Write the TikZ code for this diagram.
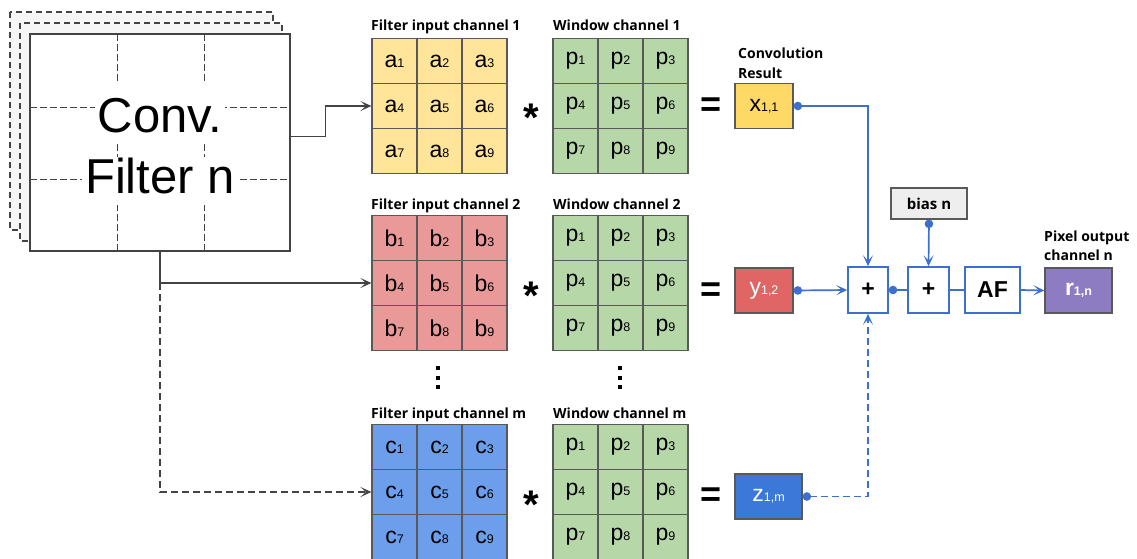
\documentclass[tikz,border=0pt]{standalone}
\usepackage{fontspec}
\setmainfont{Liberation Sans}
\newfontfamily\lblfont{Open Sans}
\usetikzlibrary{arrows.meta}
\definecolor{bord}{HTML}{595959}
\definecolor{gline}{HTML}{434343}
\definecolor{ylw}{HTML}{FFE599}
\definecolor{redl}{HTML}{EA9999}
\definecolor{grn}{HTML}{B6D7A8}
\definecolor{blul}{HTML}{6D9EEB}
\definecolor{ylwd}{HTML}{FFD966}
\definecolor{redd}{HTML}{E06666}
\definecolor{blud}{HTML}{3C78D8}
\definecolor{purp}{HTML}{8E7CC3}
\definecolor{conn}{HTML}{3D6FCF}
\definecolor{biasg}{HTML}{EEEEEE}
\newcommand\subsz[1]{{\fontsize{12.5}{12.5}\selectfont #1}}
\tikzset{
  cell/.style={draw=bord, line width=1.2pt, minimum size=45pt, inner sep=0pt, font=\fontsize{23}{23}\selectfont},
  lbl/.style={font=\lblfont\bfseries\fontsize{14}{16}\selectfont, anchor=base west, inner sep=0pt},
  res/.style={draw=bord, line width=1.2pt, minimum width=58pt, minimum height=45pt, inner sep=0pt, font=\fontsize{23}{23}\selectfont},
  opbox/.style={draw=conn, line width=1.5pt, fill=white, minimum height=46pt, inner sep=0pt, font=\bfseries\fontsize{23}{23}\selectfont},
  tip/.style={-{Stealth[length=11pt,width=10pt,inset=5.5pt]}},
  gconn/.style={draw=gline, line width=1.4pt, tip},
  bconn/.style={draw=conn, line width=1.7pt},
  dotstart/.style={{Circle[length=8.5pt]}-},
  dottip/.style={{Circle[length=8.5pt]}-{Stealth[length=11pt,width=10pt,inset=5.5pt]}},
  layer/.style={draw=gline, dash pattern=on 6pt off 4pt, line width=1.1pt, fill=gray!7},
  griddash/.style={draw=gline, line width=1pt, dash pattern=on 7pt off 3pt},
  big/.style={font=\fontsize{49}{49}\selectfont, fill=white, inner xsep=3pt, inner ysep=0pt, anchor=base},
  op/.style={font=\bfseries\fontsize{40}{40}\selectfont, inner sep=0pt},
  eqop/.style={font=\bfseries\fontsize{36}{36}\selectfont, inner sep=0pt},
  dotsq/.style={fill=black, minimum size=3.5pt, inner sep=0pt}
}
\newcommand\cellgrid[5]{%
  \foreach \i in {1,...,9} {%
    \pgfmathtruncatemacro\cc{mod(\i-1,3)}%
    \pgfmathtruncatemacro\rr{div(\i-1,3)}%
    \node[cell, fill=#4] (#1\i) at ({#2+22.5+45*\cc},{#3+22.5+45*\rr}) {#5\subsz{\i}};
  }%
}
\begin{document}
\begin{tikzpicture}[x=1pt,y=-1pt]
\useasboundingbox (0,0) rectangle (1137,558);
% filter stack
\draw[layer] (10,12) rectangle (273,230);
\draw[layer] (20,23) rectangle (282,241);
\node[draw=gline, line width=1.3pt, fill=white, minimum width=260pt, minimum height=217pt, inner sep=0pt] (conv) at (160,142.5) {};
\draw[griddash] (117,34) -- (117,251);
\draw[griddash] (204,34) -- (204,251);
\draw[griddash] (30,107) -- (290,107);
\draw[griddash] (30,179) -- (290,179);
\node[big, text height=50pt, text depth=12pt] (t1) at (160,132) {Conv.};
\node[big, text height=36pt, text depth=12pt] (t2) at (160,193) {Filter n};
% grids
\cellgrid{A}{372}{38.5}{ylw}{a}
\cellgrid{P}{553}{38.5}{grn}{p}
\cellgrid{B}{372}{215.5}{redl}{b}
\cellgrid{Q}{553}{215.5}{grn}{p}
\cellgrid{C}{372}{424.5}{blul}{c}
\cellgrid{R}{553}{424.5}{grn}{p}
% labels
\node[lbl] (l1) at (371,30) {Filter input channel 1};
\node[lbl] (l2) at (553,30) {Window channel 1};
\node[lbl] (l3) at (371,209) {Filter input channel 2};
\node[lbl] (l4) at (553,209) {Window channel 2};
\node[lbl] (l5) at (371,418) {Filter input channel m};
\node[lbl] (l6) at (553,418) {Window channel m};
% operators
\node[op] (s1) at (531,118) {*};
\node[op] (s2) at (531,296) {*};
\node[op] (s3) at (531,505) {*};
\node[eqop] (e1) at (711,107) {=};
\node[eqop] (e2) at (711,292) {=};
\node[eqop] (e3) at (711,497) {=};
% dots
\foreach \xx/\nm in {438/d, 620/e} {
  \node[dotsq] (\nm1) at (\xx,368) {};
  \node[dotsq] (\nm2) at (\xx,378) {};
  \node[dotsq] (\nm3) at (\xx,387) {};
}
% results
\node[lbl, align=left, font=\lblfont\bfseries\fontsize{14}{20}\selectfont] (cr) at (738,78) {Convolution\\Result};
\node[res, fill=ylwd] (x) at (764,106) {x\subsz{1,1}};
\node[res, fill=redd, text=white] (y) at (764,290.5) {y\subsz{1,2}};
\node[res, fill=blud, text=white, minimum width=67pt] (z) at (768.5,496.5) {z\subsz{1,m}};
\node[opbox, minimum width=40pt] (p1) at (868,290) {+};
\node[opbox, minimum width=41pt] (p2) at (928.5,290) {+};
\node[opbox, minimum width=55pt] (af) at (992.5,290) {AF};
\node[res, fill=purp, text=white, minimum width=67pt, font=\bfseries\fontsize{23}{23}\selectfont] (r) at (1078.5,290.5) {r\subsz{1,n}};
\node[draw=bord, line width=1.2pt, fill=biasg, minimum width=76pt, minimum height=31pt, inner sep=0pt, font=\lblfont\bfseries\fontsize{15}{15}\selectfont] (bias) at (929,203.5) {bias n};
\node[lbl, align=left, font=\lblfont\bfseries\fontsize{14}{19}\selectfont] (po) at (1044,260) {Pixel output\\channel n};
% gray connectors
\draw[gconn] ([yshift=6pt]conv.east) -- ++(35,0) |- (A4.west);
\coordinate (br) at (conv.south |- B4.west);
\draw[gconn] (conv.south) -- (br) -- (B4.west);
\draw[gconn, dash pattern=on 7pt off 4pt] (br) |- (C4.west);
% blue connectors
\draw[bconn, dottip] (x.east) -| (p1.north);
\draw[bconn, dottip] (y.east) -- (p1.west);
\draw[bconn, dotstart] (p1.east) -- (p2.west);
\draw[bconn] (p2.east) -- (af.west);
\draw[bconn, tip] (af.east) -- (r.west);
\draw[bconn, dottip] (bias.south) -- (p2.north);
\draw[bconn, dash pattern=on 7pt off 4pt, dottip] (z.east) -| (p1.south);
\end{tikzpicture}
\end{document}
